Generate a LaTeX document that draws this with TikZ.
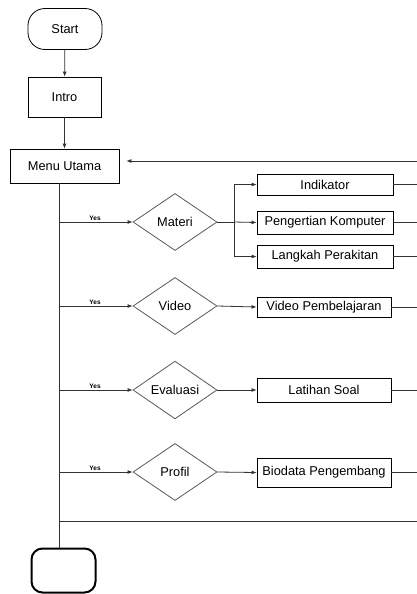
\documentclass[tikz,border=0pt]{standalone}
\usepackage{fontspec}
\setmainfont{Liberation Sans}
\usetikzlibrary{shapes.geometric,arrows.meta}
\begin{document}
\begin{tikzpicture}[x=1pt,y=-1pt,
  every node/.style={font=\fontsize{12.8}{14}\selectfont},
  box/.style={draw=black,line width=0.8pt,rectangle,inner sep=0pt},
  term/.style={draw=black,line width=0.8pt,rectangle,rounded corners=17pt,inner sep=0pt},
  dec/.style={draw=black!65,line width=0.8pt,diamond,inner sep=0pt,minimum width=84pt,minimum height=57pt},
  conn/.style={draw=black!80,line width=0.8pt},
  arr/.style={conn,-{Latex[length=5pt,width=4pt]}},
  yes/.style={font=\fontsize{6.5}{7}\selectfont\bfseries,inner sep=1pt,anchor=south}
]
\useasboundingbox[fill=white] (0,0) rectangle (417,594);
% nodes
\node[term,minimum width=74pt,minimum height=41pt] (start) at (65,29) {Start};
\node[box,minimum width=73pt,minimum height=40pt] (intro) at (64.5,97) {Intro};
\node[box,minimum width=109pt,minimum height=34pt] (menu) at (64.5,166) {Menu Utama};
\node[dec] (materi) at (175,222) {Materi};
\node[box,minimum width=136pt,minimum height=21pt] (ind) at (325,184.5) {Indikator};
\node[box,minimum width=136pt,minimum height=23pt] (peng) at (325,222.5) {Pengertian Komputer};
\node[box,minimum width=136pt,minimum height=23pt] (lang) at (325,256.5) {Langkah Perakitan};
\node[dec] (video) at (175,306) {Video};
\node[box,minimum width=134pt,minimum height=20pt] (vp) at (324,307) {Video Pembelajaran};
\node[dec] (eval) at (175,390) {Evaluasi};
\node[box,minimum width=134pt,minimum height=24pt] (ls) at (324,390) {Latihan Soal};
\node[dec] (profil) at (175,472) {Profil};
\node[box,minimum width=134pt,minimum height=29pt] (bio) at (324,472.5) {Biodata Pengembang};
\node[draw=black,line width=2pt,rounded corners=11pt,minimum width=64pt,minimum height=44pt,inner sep=0pt] (end) at (63.5,570.5) {};
% coordinates
\coordinate (t) at (59,0);
\coordinate (R) at (417,0);
\coordinate (back) at (417,161);
\coordinate (bot) at (417,521);
\coordinate (split) at (234,222);
% connectors
\draw[arr] (start) -- (intro);
\draw[arr] (intro) -- (intro |- menu.north);
\draw[conn] (menu.south -| t) -- (end.north -| t);
\draw[arr] (back) -- ([xshift=7pt]back -| menu.east);
\foreach \d in {materi,video,eval,profil}{
  \draw[arr] (t |- \d) -- node[yes,pos=0.49]{Yes} (\d.west);
}
\draw[conn] (materi.east) -- (split);
\draw[arr] (split) -- (peng.west);
\draw[arr] (split) |- (ind.west);
\draw[arr] (split) |- (lang.west);
\draw[arr] (video.east) -- (vp.west);
\draw[arr] (eval.east) -- (ls.west);
\draw[arr] (profil.east) -- (bio.west);
\foreach \b in {ind,peng,lang,vp,ls,bio}{
  \draw[conn] (\b.east) -- (\b.east -| R);
}
\draw[conn] (t |- bot) -- (bot);
\end{tikzpicture}
\end{document}
